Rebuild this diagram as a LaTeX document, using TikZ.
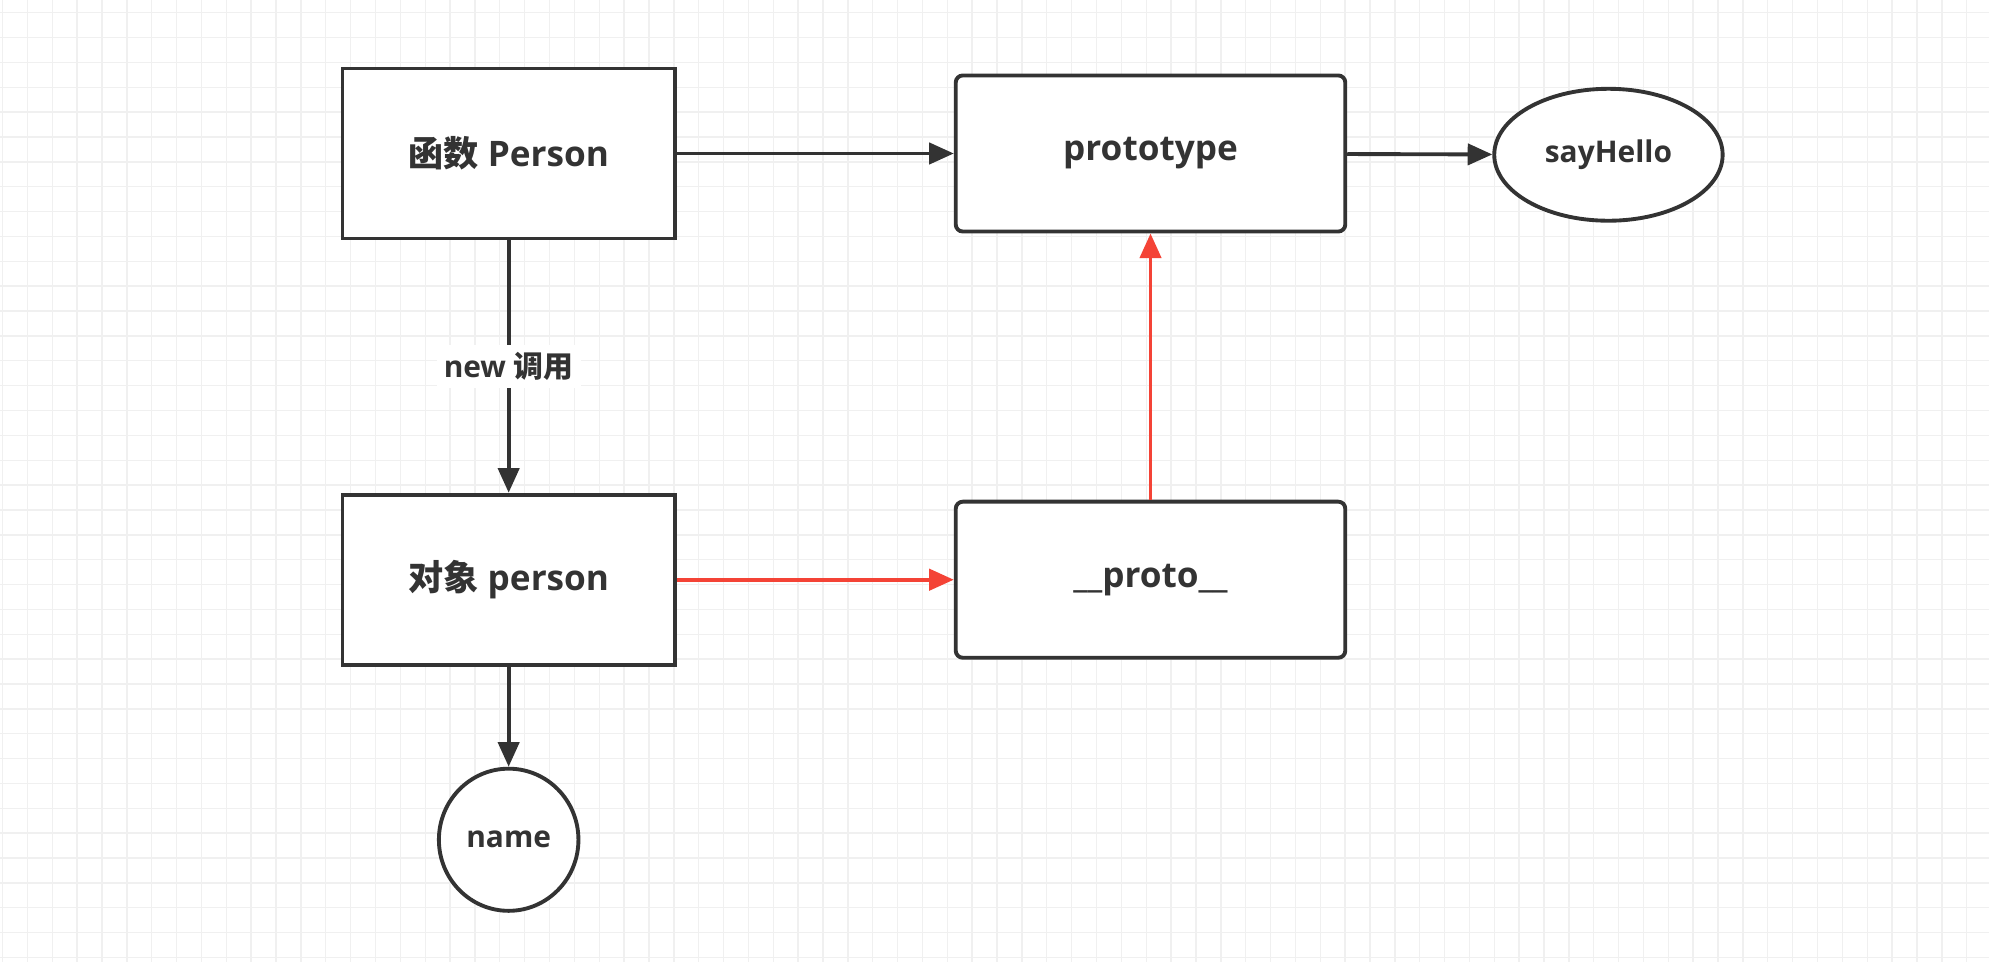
\documentclass[tikz,border=0pt]{standalone}
\usepackage{fontspec}
\setmainfont{Open Sans}
\newfontfamily\cjk{Noto Sans CJK SC}
\usetikzlibrary{arrows.meta,shapes.geometric}
\definecolor{ink}{HTML}{333333}
\definecolor{redline}{HTML}{F44336}
\tikzset{
  box/.style={draw=ink,line width=1.1pt,fill=white,inner sep=0pt,minimum width=3.323cm,minimum height=1.700cm,text=ink,font=\fontsize{10}{12}\selectfont\bfseries},
  rbox/.style={box,rounded corners=2pt,minimum width=3.894cm,minimum height=1.560cm},
  blob/.style={ellipse,draw=ink,line width=1.1pt,fill=white,inner sep=0pt,text=ink,font=\fontsize{8.5}{10}\selectfont\bfseries},
  link/.style={draw=ink,line width=1.1pt,-{Triangle[length=7pt,width=6pt]}},
  redlink/.style={link,draw=redline,-{Triangle[length=7pt,width=6pt,fill=redline]}}
}
\begin{document}
\begin{tikzpicture}[x=0.012685cm,y=-0.012685cm]
\useasboundingbox (0,0) rectangle (1568,758);
\fill[white] (0,0) rectangle (1568,758);
% grid
\foreach \i in {0,...,79} {
    \draw[black!6,line width=0.4pt] (\i*19.6+2,0) -- (\i*19.6+2,758);
}
\foreach \j in {0,...,38} {
    \draw[black!6,line width=0.4pt] (0,\j*19.6+10) -- (1568,\j*19.6+10);
}

\node[box] (person) at (401,121) {{\cjk 函数} Person};
\node[rbox] (proto) at (907,121) {prototype};
\node[blob,minimum width=2.283cm,minimum height=1.319cm] (hello) at (1268,122) {sayHello};
\node[box] (obj) at (401,457) {{\cjk 对象} person};
\node[rbox] (dunder) at (907,457) {\_\_proto\_\_};
\node[blob,minimum width=1.395cm,minimum height=1.421cm] (name) at (401,662) {name};

\draw[link] (person) -- (proto);
\draw[link] (proto) -- (hello);
\draw[link] (person) -- node[fill=white,text=ink,inner sep=2pt,font=\fontsize{8.5}{10}\selectfont\bfseries] {new {\cjk 调用}} (obj);
\draw[link] (obj) -- (name);
\draw[redlink] (obj) -- (dunder);
\draw[redlink] (dunder) -- (proto);
\end{tikzpicture}
\end{document}
